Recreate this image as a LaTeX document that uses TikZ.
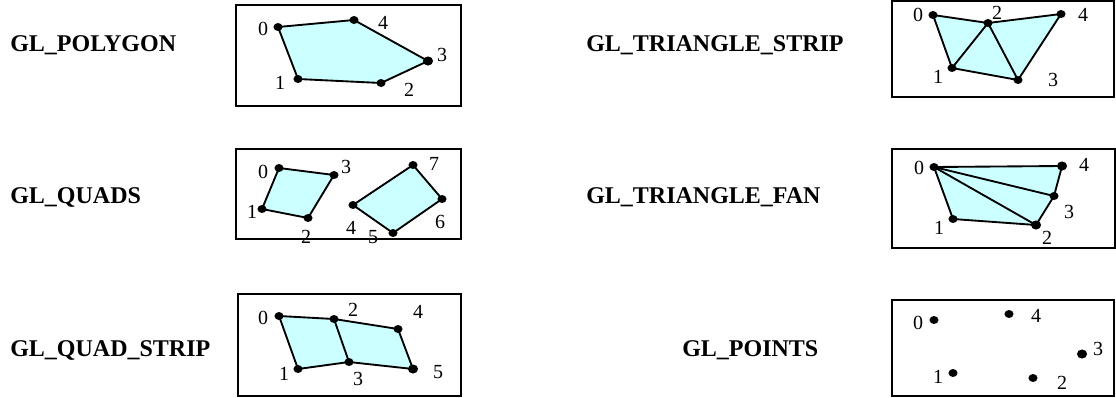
\documentclass[tikz,border=0pt]{standalone}
\usepackage{fontspec}
\usetikzlibrary{shapes.geometric}
\setmainfont{Liberation Serif}
\definecolor{polyfill}{HTML}{CCFFFF}
\begin{document}
\begin{tikzpicture}[x=0.75pt,y=-0.75pt,
  panel/.style={draw=black,line width=1.3pt},
  edge/.style={draw=black,line width=1.4pt,line join=round},
  face/.style={fill=polyfill},
  dot/.style={ellipse,fill=black,inner sep=0pt,minimum width=6.8pt,minimum height=6pt},
  bigdot/.style={ellipse,fill=black,inner sep=0pt,minimum width=7.6pt,minimum height=6.8pt},
  lbl/.style={inner sep=0pt,font=\fontsize{15pt}{15pt}\selectfont},
  title/.style={anchor=base west,inner sep=0pt,font=\fontsize{18pt}{18pt}\selectfont\bfseries}]
\path[use as bounding box] (0,0) rectangle (1116,397);

% ---------- titles ----------
\node[title] (t1) at (10,51) {GL\_POLYGON};
\node[title] (t2) at (10,203) {GL\_QUADS};
\node[title] (t3) at (10,356) {GL\_QUAD\_STRIP};
\node[title] (t4) at (586,51) {GL\_TRIANGLE\_STRIP};
\node[title] (t5) at (586,203) {GL\_TRIANGLE\_FAN};
\node[title] (t6) at (682,356) {GL\_POINTS};

% ---------- GL_POLYGON ----------
\draw[panel] (236,5) rectangle (461,106);
\coordinate (a0) at (278,27);
\coordinate (a1) at (298,79);
\coordinate (a2) at (381,83);
\coordinate (a3) at (428,61);
\coordinate (a4) at (354,20);
\fill[face] (a0)--(a1)--(a2)--(a3)--(a4)--cycle;
\draw[edge] (a0)--(a1)--(a2)--(a3)--(a4)--cycle;
\foreach \v in {a0,a1,a2,a4} \node[dot] at (\v) {};
\node[bigdot] at (a3) {};
\node[lbl] (la0) at (263,29) {0};
\node[lbl] (la1) at (280,83) {1};
\node[lbl] (la2) at (409,90) {2};
\node[lbl] (la3) at (442,55) {3};
\node[lbl] (la4) at (383,23) {4};

% ---------- GL_QUADS ----------
\draw[panel] (236,149) rectangle (461,239);
\coordinate (b0) at (279,168);
\coordinate (b1) at (262,209);
\coordinate (b2) at (308,218);
\coordinate (b3) at (334,175);
\coordinate (b4) at (353,205);
\coordinate (b5) at (393,233);
\coordinate (b6) at (442,199);
\coordinate (b7) at (413,165);
\fill[face] (b0)--(b1)--(b2)--(b3)--cycle;
\fill[face] (b4)--(b5)--(b6)--(b7)--cycle;
\draw[edge] (b0)--(b1)--(b2)--(b3)--cycle;
\draw[edge] (b4)--(b5)--(b6)--(b7)--cycle;
\foreach \v in {b0,b1,b2,b3,b4,b5,b6,b7} \node[dot] at (\v) {};
\node[lbl] (lb0) at (263,172) {0};
\node[lbl] (lb1) at (252,212) {1};
\node[lbl] (lb2) at (306,237) {2};
\node[lbl] (lb3) at (346,167) {3};
\node[lbl] (lb4) at (351,228) {4};
\node[lbl] (lb5) at (373,237) {5};
\node[lbl] (lb6) at (440,222) {6};
\node[lbl] (lb7) at (434,164) {7};

% ---------- GL_QUAD_STRIP ----------
\draw[panel] (238,294) rectangle (461,396);
\coordinate (c0) at (279,316);
\coordinate (c1) at (298,369);
\coordinate (c2) at (334,319);
\coordinate (c3) at (349,362);
\coordinate (c4) at (398,329);
\coordinate (c5) at (413,369);
\fill[face] (c0)--(c2)--(c4)--(c5)--(c3)--(c1)--cycle;
\draw[edge] (c0)--(c2)--(c4)--(c5)--(c3)--(c1)--cycle;
\draw[edge] (c2)--(c3);
\foreach \v in {c0,c1,c2,c3,c4} \node[dot] at (\v) {};
\node[bigdot] at (c5) {};
\node[lbl] (lc0) at (263,318) {0};
\node[lbl] (lc1) at (284,374) {1};
\node[lbl] (lc2) at (353,310) {2};
\node[lbl] (lc3) at (358,379) {3};
\node[lbl] (lc4) at (418,312) {4};
\node[lbl] (lc5) at (438,372) {5};

% ---------- GL_TRIANGLE_STRIP ----------
\draw[panel] (892,1) rectangle (1114,97);
\coordinate (d0) at (933,15);
\coordinate (d1) at (952,68);
\coordinate (d2) at (988,23);
\coordinate (d3) at (1018,80);
\coordinate (d4) at (1061,14);
\fill[face] (d0)--(d2)--(d4)--(d3)--(d1)--cycle;
\draw[edge] (d0)--(d2)--(d4)--(d3)--(d1)--cycle;
\draw[edge] (d1)--(d2)--(d3);
\foreach \v in {d0,d1,d2,d3,d4} \node[dot] at (\v) {};
\node[lbl] (ld0) at (918,15) {0};
\node[lbl] (ld1) at (938,77) {1};
\node[lbl] (ld2) at (997,13) {2};
\node[lbl] (ld3) at (1053,80) {3};
\node[lbl] (ld4) at (1083,15) {4};

% ---------- GL_TRIANGLE_FAN ----------
\draw[panel] (892,149) rectangle (1115,248);
\coordinate (e0) at (934,167);
\coordinate (e1) at (953,219);
\coordinate (e2) at (1036,225);
\coordinate (e3) at (1054,196);
\coordinate (e4) at (1062,166);
\fill[face] (e0)--(e1)--(e2)--(e3)--(e4)--cycle;
\draw[edge] (e0)--(e1)--(e2)--(e3)--(e4)--cycle;
\draw[edge] (e0)--(e2);
\draw[edge] (e0)--(e3);
\foreach \v in {e0,e1,e3} \node[dot] at (\v) {};
\foreach \v in {e2,e4} \node[bigdot] at (\v) {};
\node[lbl] (le0) at (919,168) {0};
\node[lbl] (le1) at (939,228) {1};
\node[lbl] (le2) at (1047,238) {2};
\node[lbl] (le3) at (1069,212) {3};
\node[lbl] (le4) at (1084,165) {4};

% ---------- GL_POINTS ----------
\draw[panel] (892,300) rectangle (1114,396);
\node[dot] (f0) at (934,320) {};
\node[dot] (f1) at (953,373) {};
\node[dot] (f2) at (1033,378) {};
\node[bigdot] (f3) at (1082,354) {};
\node[dot] (f4) at (1009,314) {};
\node[lbl] (lf0) at (918,323) {0};
\node[lbl] (lf1) at (938,377) {1};
\node[lbl] (lf2) at (1062,383) {2};
\node[lbl] (lf3) at (1098,349) {3};
\node[lbl] (lf4) at (1036,316) {4};
\end{tikzpicture}
\end{document}
